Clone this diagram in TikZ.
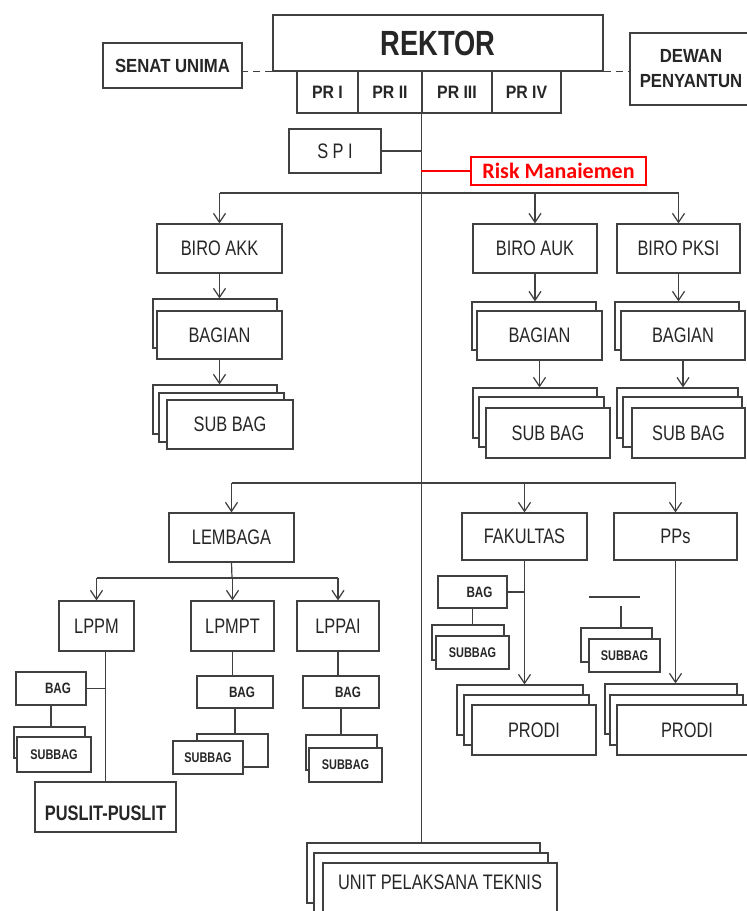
\documentclass[tikz,border=0pt]{standalone}
\usepackage{fontspec}
\setmainfont{Liberation Sans}[FakeStretch=0.78]
\newfontfamily\hdfont{Liberation Sans}[FakeStretch=0.88]
\newfontfamily\riskfont{Carlito}
\usetikzlibrary{arrows.meta}

\tikzset{
    box/.style={draw=black!75, fill=white, line width=1.2pt, inner sep=0pt, text=black!85,
        font=\fontsize{21}{21}\selectfont},
    hd/.style={box, font=\hdfont\bfseries\fontsize{18}{18}\selectfont},
    biro/.style={box, minimum width=125pt, minimum height=49pt},
    bag/.style={box, minimum width=76pt, minimum height=32pt, font=\bfseries\fontsize{15}{15}\selectfont},
    subbag/.style={box, minimum width=72pt, minimum height=34pt, font=\bfseries\fontsize{14}{14}\selectfont},
    line/.style={draw=black!75, line width=1.2pt},
    arr/.style={line, -{Straight Barb[length=9pt,width=12pt]}},
    link/.style={line, dash pattern=on 7pt off 5pt},
}

\begin{document}
\begin{tikzpicture}[x=1pt,y=-1pt]
    \useasboundingbox[fill=white] (0,0) rectangle (747,911);

    \node[box, minimum width=330pt, minimum height=56pt, font=\bfseries\fontsize{35}{35}\selectfont] (rektor) at (438,43) {REKTOR};
    \node[hd, minimum width=61pt, minimum height=42pt] (pr1) at (327.5,92) {PR I};
    \node[hd, minimum width=64pt, minimum height=42pt] (pr2) at (390,92) {PR II};
    \node[hd, minimum width=70pt, minimum height=42pt] (pr3) at (457,92) {PR III};
    \node[hd, minimum width=69pt, minimum height=42pt] (pr4) at (526.5,92) {PR IV};
    \node[hd, minimum width=139pt, minimum height=45pt, font=\hdfont\bfseries\fontsize{19}{19}\selectfont] (senat) at (172.5,65.5) {SENAT UNIMA};
    \node[hd, minimum width=122pt, minimum height=72pt, align=center, font=\hdfont\bfseries\fontsize{19}{25}\selectfont] (dewan) at (691,69) {DEWAN\\PENYANTUN};
    \node[box, minimum width=92pt, minimum height=44pt] (spi) at (335,151) {S P I};
    \node[box, draw=red, text=red, minimum width=175pt, minimum height=28pt, font=\riskfont\bfseries\fontsize{22}{22}\selectfont] (risk) at (558.5,171) {Risk Manaiemen};

    \node[biro] (biroakk) at (219.5,248.5) {BIRO AKK};
    \node[biro, minimum width=124pt] (biroauk) at (535,248.5) {BIRO AUK};
    \node[biro, minimum width=123pt] (biropksi) at (678.5,248.5) {BIRO PKSI};

    \node[biro, minimum width=124pt] (bagakk0) at (215,323.5) {};
    \node[biro, minimum height=48pt] (bagakk) at (219.5,335) {BAGIAN};
    \node[biro, minimum width=124pt, minimum height=48pt] (bagauk0) at (534,326) {};
    \node[biro] (bagauk) at (539.5,335.5) {BAGIAN};
    \node[biro, minimum width=124pt, minimum height=48pt] (bagpksi0) at (677,326) {};
    \node[biro, minimum width=124pt] (bagpksi) at (683,335.5) {BAGIAN};

    \node[biro, minimum width=124pt] (subakk1) at (215,409.5) {};
    \node[biro] (subakk2) at (221.5,417.5) {};
    \node[biro, minimum width=126pt] (subakk) at (230,424.5) {SUB BAG};
    \node[biro, minimum width=124pt, minimum height=50pt] (subauk1) at (535,413) {};
    \node[biro, minimum height=50pt] (subauk2) at (541.5,422) {};
    \node[biro, minimum width=124pt, minimum height=50pt] (subauk) at (548,433) {SUB BAG};
    \node[biro, minimum width=121pt, minimum height=50pt] (subpksi1) at (677.5,413) {};
    \node[biro, minimum width=119pt, minimum height=50pt] (subpksi2) at (682.5,422) {};
    \node[biro, minimum width=113pt, minimum height=50pt] (subpksi) at (688.5,433) {SUB BAG};

    \node[biro] (lembaga) at (231.5,537.5) {LEMBAGA};
    \node[biro, minimum height=47pt] (fakultas) at (524.5,536.5) {FAKULTAS};
    \node[biro, minimum width=123pt, minimum height=47pt] (pps) at (675.5,536.5) {PPs};

    \node[box, minimum width=75pt, minimum height=50pt] (lppm) at (96.5,626) {LPPM};
    \node[box, minimum width=83pt, minimum height=50pt] (lpmpt) at (232.5,626) {LPMPT};
    \node[box, minimum width=82pt, minimum height=50pt] (lppai) at (338,626) {LPPAI};

    \node[bag, minimum width=70pt, minimum height=33pt] (bagl) at (51,688.5) {\hspace*{14pt}BAG};
    \node[subbag, minimum width=71pt, minimum height=31pt] (subl0) at (49.5,742.5) {};
    \node[subbag, minimum width=74pt, minimum height=35pt] (subl) at (54,754.5) {SUBBAG};
    \node[box, minimum width=141pt, minimum height=50pt, text height=27pt, font=\bfseries\fontsize{21}{21}\selectfont] (puslit) at (105.5,807) {PUSLIT-PUSLIT};

    \node[bag] (bagm) at (235,692) {\hspace*{14pt}BAG};
    \node[subbag, minimum width=71pt, minimum height=33pt] (subm0) at (232.5,750.5) {};
    \node[subbag, minimum width=70pt, minimum height=33pt] (subm) at (208,757.5) {SUBBAG};

    \node[bag] (bagp) at (341,692) {\hspace*{14pt}BAG};
    \node[subbag, minimum width=71pt, minimum height=35pt] (subp0) at (341.5,752.5) {};
    \node[subbag, minimum width=73pt] (subp) at (345.5,765) {SUBBAG};

    \node[bag, minimum width=69pt] (bagf) at (472.5,592) {\hspace*{14pt}BAG};
    \node[subbag, minimum height=35pt] (subf0) at (468,642.5) {};
    \node[subbag, minimum width=73pt, minimum height=33pt] (subf) at (472.5,652.5) {SUBBAG};
    \node[biro, minimum width=126pt, minimum height=50pt] (prodif1) at (520,710) {};
    \node[biro, minimum height=50pt] (prodif2) at (526.5,720) {};
    \node[biro, minimum width=124pt, minimum height=50pt] (prodif) at (534,730) {PRODI};

    \node[subbag, minimum width=71pt] (subpp0) at (616.5,645) {};
    \node[subbag, minimum width=71pt, minimum height=33pt] (subpp) at (624.5,655.5) {SUBBAG};
    \node[biro, minimum width=132pt, minimum height=50pt] (prodip1) at (671,709) {};
    \node[biro, minimum width=133pt, minimum height=50pt] (prodip2) at (676.5,720) {};
    \node[biro, minimum width=140pt, minimum height=50pt] (prodip) at (687,730) {PRODI};

    \node[box, minimum width=233pt, minimum height=60pt] (unit1) at (423.5,873) {};
    \node[box, minimum width=234pt, minimum height=60pt] (unit2) at (431,883) {};
    \node[box, minimum width=234pt, minimum height=60pt, text depth=22pt] (unit) at (440,893) {UNIT PELAKSANA TEKNIS};

    \coordinate (bus1) at (422,193);
    \coordinate (bus2) at (422,483);
    \coordinate (bus3) at (232,578);
    \coordinate (gapl) at (589,597);
    \coordinate (gapr) at (640,597);
    \coordinate (ppsbag) at (621,606);

    \draw[link] (rektor.south west) -- (rektor.south west -| senat.east);
    \draw[link] (rektor.south east) -- (rektor.south east -| dewan.west);
    \draw[line] (pr3.south west) -- (pr3.south west |- unit1.north);
    \draw[line] (spi.east) -- (spi.east -| pr3.south west);
    \draw[line, draw=red] (risk.west) -- (risk.west -| pr3.south west);

    \draw[line] (biroakk.north |- bus1) -- (biropksi.north |- bus1);
    \foreach \n in {akk,auk,pksi}{
        \draw[arr] (biro\n.north |- bus1) -- (biro\n.north);
        \draw[arr] (biro\n.south) -- (biro\n.south |- bag\n0.north);
        \draw[arr] (bag\n.south) -- (bag\n.south |- sub\n1.north);
    }

    \draw[line] (lembaga.north |- bus2) -- (pps.north |- bus2);
    \foreach \n in {lembaga,fakultas,pps}
        \draw[arr] (\n.north |- bus2) -- (\n.north);
    \draw[line] (lembaga.south) -- (bus3);
    \draw[line] (lppm.north |- bus3) -- (lppai.north |- bus3);
    \foreach \n in {lppm,lpmpt,lppai}
        \draw[arr] (\n.north |- bus3) -- (\n.north);

    \draw[line] (puslit.north) -- (puslit.north |- lppm.south);
    \draw[line] (bagl.east) -- (bagl.east -| puslit.north);
    \draw[line] (bagl.south) -- (bagl.south |- subl0.north);
    \draw[line] (lpmpt.south) -- (lpmpt.south |- bagm.north);
    \draw[line] (bagm.south) -- (bagm.south |- subm0.north);
    \draw[line] (lppai.south) -- (lppai.south |- bagp.north);
    \draw[line] (bagp.south) -- (bagp.south |- subp0.north);

    \draw[arr] (fakultas.south) -- (fakultas.south |- prodif1.north);
    \draw[line] (bagf.east) -- (bagf.east -| fakultas.south);
    \draw[line] (bagf.south) -- (bagf.south |- subf0.north);
    \draw[line] (gapl) -- (gapr);
    \draw[line] (ppsbag) -- (ppsbag |- subpp0.north);
    \draw[arr] (pps.south) -- (pps.south |- prodip1.north);
\end{tikzpicture}
\end{document}
